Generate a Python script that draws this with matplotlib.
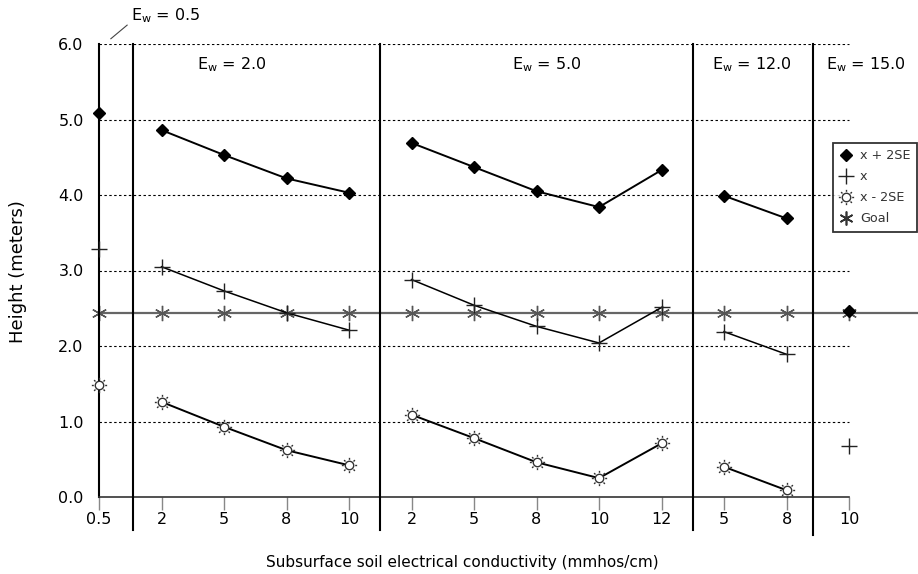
import matplotlib
matplotlib.use('Agg')
import matplotlib.pyplot as plt
import matplotlib.path as mpath
from matplotlib.lines import Line2D
import numpy as np

plt.rcParams['font.family'] = ['DejaVu Sans']
plt.rcParams['mathtext.fontset'] = 'dejavusans'

# ---------------- data ----------------
ew_labels = ["0.5", "2.0", "5.0", "12.0", "15.0"]
conductivity = [["0.5"], ["2", "5", "8", "10"], ["2", "5", "8", "10", "12"], ["5", "8"], ["10"]]
upper = [[5.09], [4.86, 4.53, 4.22, 4.03], [4.69, 4.37, 4.05, 3.84, 4.33], [3.99, 3.69], [2.46]]
mean = [[3.28], [3.05, 2.73, 2.44, 2.21], [2.88, 2.54, 2.26, 2.04, 2.51], [2.19, 1.89], [0.67]]
lower = [[1.48], [1.26, 0.93, 0.62, 0.42], [1.09, 0.78, 0.46, 0.25, 0.71], [0.40, 0.09], []]
goal_height = 2.44
y_ticks = [0, 1, 2, 3, 4, 5, 6]

# ---------------- layout ----------------
W, H = 918, 574
fig = plt.figure(figsize=(W / 100, H / 100), dpi=100)
left_px, right_px, top_px, bot_px = 99, 918, 44, 497
ax = fig.add_axes([left_px / W, 1 - bot_px / H, (right_px - left_px) / W, (bot_px - top_px) / H])
step_px = 62.5
ax.set_xlim(0, (right_px - left_px) / step_px)
ax.set_ylim(0, 6)

# positions of categories
pos_groups = []
i = 0
for g in conductivity:
    pos_groups.append(list(range(i, i + len(g))))
    i += len(g)
all_pos = [p for g in pos_groups for p in g]
all_lab = [l for g in conductivity for l in g]
last_pos = all_pos[-1]

# sun marker
circle = mpath.Path.circle((0, 0), 0.58)
ray_verts, ray_codes = [], []
for k in range(8):
    a = k * np.pi / 4
    ray_verts += [(0.78 * np.cos(a), 0.78 * np.sin(a)), (1.05 * np.cos(a), 1.05 * np.sin(a))]
    ray_codes += [mpath.Path.MOVETO, mpath.Path.LINETO]
rays = mpath.Path(ray_verts, ray_codes)
sun = mpath.Path.make_compound_path(circle, rays)

# spines
for s in ['top', 'right']:
    ax.spines[s].set_visible(False)
ax.spines['left'].set_bounds(0, 6)
ax.spines['left'].set_linewidth(1.5)
ax.spines['left'].set_color('black')
ax.spines['bottom'].set_bounds(0, last_pos)
ax.spines['bottom'].set_linewidth(1.2)
ax.spines['bottom'].set_color('#333333')

ax.set_xticks(all_pos)
ax.set_xticklabels(all_lab)
ax.tick_params(axis='x', direction='out', length=9, width=1, color='#888888', pad=2, labelsize=11.5)
ax.set_yticks(y_ticks)
ax.set_yticklabels([f"{v:.1f}" for v in y_ticks])
ax.tick_params(axis='y', length=0, pad=11, labelsize=11.5)

# dashed gridlines
ax.hlines(y_ticks[1:], 0, last_pos, colors='black', linestyles=(0, (2.2, 2.2)), lw=0.8, zorder=1)

# separators
sep_pos = [0.54, 4.5, 9.5, 11.42]
sep_bottom = [-0.44, -0.44, -0.44, -0.5]
for sx, sb in zip(sep_pos, sep_bottom):
    ax.plot([sx, sx], [sb, 6], color='black', lw=1.5, clip_on=False, zorder=3)

# goal line
ax.axhline(goal_height, color='#666666', lw=1.6, zorder=2)
ax.plot(all_pos, [goal_height] * len(all_pos), linestyle='none', marker=(6, 2, 0), ms=11,
        mec='#555555', mew=1.0, zorder=2.5, clip_on=False)

# series
for pg, up, mn, lo in zip(pos_groups, upper, mean, lower):
    ax.plot(pg, up, color='black', lw=1.4, marker='D', ms=6.2, mfc='black', mec='black', zorder=5,
            clip_on=False)
    ax.plot(pg, mn, color='black', lw=1.1, marker='+', ms=11, mew=1.0, mec='#222222', zorder=5,
            clip_on=False)
    if lo:
        ax.plot(pg[:len(lo)], lo, color='black', lw=1.4, marker=sun, ms=11, mfc='white',
                mec='#333333', mew=1.0, zorder=5, clip_on=False)

# Ew labels
ew_pos = [(1.06, 6.38), (2.13, 5.72), (7.17, 5.72), (10.45, 5.72), (12.27, 5.72)]
for lab, (tx, ty) in zip(ew_labels, ew_pos):
    ax.text(tx, ty, r"E$_{\mathrm{w}}$ = " + lab, ha='center', va='center', fontsize=11.5, clip_on=False)
ax.plot([0.19, 0.45], [6.07, 6.25], color='#444444', lw=0.8, clip_on=False)

# axis labels
fig.text(18 / W, 1 - 272 / H, "Height (meters)", rotation=90, ha='center', va='center', fontsize=13)
fig.text(462 / W, 1 - 563 / H, "Subsurface soil electrical conductivity (mmhos/cm)", ha='center',
         va='center', fontsize=11)

# legend
handles = [
    Line2D([], [], linestyle='none', marker='D', ms=6, mfc='black', mec='black'),
    Line2D([], [], linestyle='none', marker='+', ms=11, mew=1.0, mec='#222222'),
    Line2D([], [], linestyle='none', marker=sun, ms=11, mfc='white', mec='#333333', mew=1.0),
    Line2D([], [], linestyle='none', marker=(6, 2, 0), ms=10, mec='#333333', mew=1.2),
]
labels = ["x + 2SE", "x", "x - 2SE", "Goal"]
leg = fig.legend(handles, labels, loc='upper left', bbox_to_anchor=(833 / W, 1 - 143 / H),
                 frameon=True, fancybox=False, edgecolor='black', fontsize=9.2, handlelength=1.0,
                 handletextpad=0.6, borderpad=0.5, labelspacing=0.62, borderaxespad=0)
leg.get_frame().set_linewidth(1.3)
for t in leg.get_texts():
    t.set_color('#333333')

fig.savefig('out.png', dpi=100)
